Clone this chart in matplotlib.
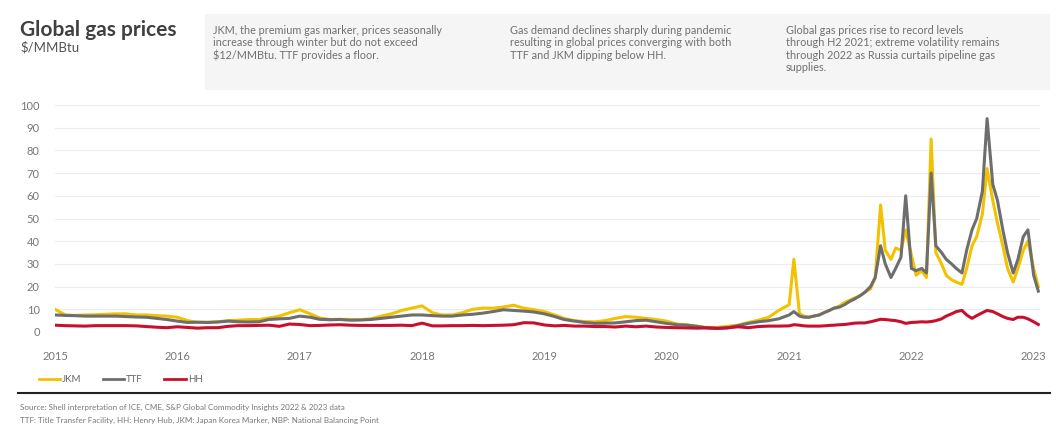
import pandas as pd
import numpy as np
import matplotlib
matplotlib.use("Agg")
import matplotlib.pyplot as plt
from matplotlib.lines import Line2D
from matplotlib.patches import Rectangle

plt.rcParams['font.family'] = ['Lato', 'DejaVu Sans']

# monthly points 2015-2020, then twice a month 2021 - mid Jan 2023
dates_a = pd.date_range("2015-01-01", "2020-12-01", freq="MS")
dates_b = pd.date_range("2021-01-01", "2023-01-15", freq="SMS")
dates = dates_a.append(dates_b)

# $/MMBtu
jkm = [10.0, 7.5, 7.3, 7.5, 7.6, 7.8, 8.0, 8.0, 7.5, 7.5, 7.2, 7.0,
       6.5, 5.0, 4.3, 4.3, 4.5, 5.0, 5.2, 5.5, 5.5, 6.2, 7.0, 8.5,
       9.8, 8.0, 6.2, 5.5, 5.6, 5.5, 5.4, 5.8, 7.0, 8.0, 9.5, 10.5,
       11.5, 8.5, 7.5, 7.5, 8.5, 10.0, 10.5, 10.5, 11.0, 11.8, 10.5, 9.8,
       9.0, 7.5, 6.0, 5.0, 4.6, 4.5, 5.0, 6.0, 6.8, 6.5, 6.0, 5.5,
       4.8, 3.5, 3.2, 2.5, 2.0, 2.0, 2.5, 3.0, 4.2, 5.2, 6.5, 9.5,
       # 2021
       12.0, 32.0, 8.0, 7.0, 6.5, 7.0, 7.5, 8.5, 9.5, 10.5, 11.5, 13.0,
       14.0, 15.0, 16.0, 17.5, 19.0, 24.0, 56.0, 36.0, 32.0, 37.0, 36.0, 45.0,
       # 2022
       34.0, 25.0, 27.0, 24.0, 85.0, 35.0, 30.0, 25.0, 23.0, 22.0, 21.0, 28.0,
       38.0, 42.0, 52.0, 72.0, 58.0, 48.0, 38.0, 28.0, 22.0, 28.0, 36.0, 40.0,
       28.0, 20.0]
ttf = [7.5, 7.3, 7.2, 7.0, 7.0, 7.0, 7.0, 6.8, 6.6, 6.5, 6.0, 5.5,
       4.8, 4.2, 4.3, 4.2, 4.4, 4.8, 4.5, 4.4, 4.5, 5.5, 5.8, 6.0,
       7.0, 6.5, 5.6, 5.4, 5.5, 5.2, 5.3, 5.5, 6.0, 6.5, 7.0, 7.5,
       7.5, 7.2, 7.0, 7.0, 7.5, 7.8, 8.3, 9.0, 9.8, 9.5, 9.2, 8.8,
       8.0, 6.8, 5.5, 4.8, 4.2, 3.8, 3.9, 4.0, 4.5, 5.0, 5.2, 4.5,
       3.8, 3.2, 3.0, 2.5, 1.8, 1.6, 1.9, 2.8, 3.8, 4.5, 5.0, 5.8,
       # 2021
       7.5, 9.0, 7.0, 6.5, 6.5, 7.0, 7.5, 8.5, 9.5, 10.5, 11.0, 12.0,
       13.5, 14.5, 16.0, 17.5, 20.0, 24.0, 38.0, 30.0, 24.0, 28.0, 33.0, 60.0,
       # 2022
       28.0, 27.0, 28.0, 26.0, 70.0, 38.0, 35.0, 32.0, 30.0, 28.0, 26.0, 36.0,
       45.0, 50.0, 62.0, 94.0, 65.0, 58.0, 45.0, 35.0, 26.0, 32.0, 42.0, 45.0,
       25.0, 18.0]
hh = [3.0, 2.8, 2.7, 2.6, 2.8, 2.8, 2.8, 2.8, 2.7, 2.4, 2.1, 1.9,
      2.3, 2.0, 1.7, 1.9, 1.9, 2.5, 2.8, 2.8, 2.9, 3.0, 2.5, 3.5,
      3.3, 2.8, 2.9, 3.1, 3.2, 3.0, 2.9, 2.9, 2.9, 2.9, 3.0, 2.8,
      3.9, 2.7, 2.7, 2.8, 2.8, 2.9, 2.8, 2.9, 3.0, 3.2, 4.1, 4.0,
      3.1, 2.7, 2.9, 2.6, 2.6, 2.4, 2.4, 2.2, 2.6, 2.3, 2.6, 2.2,
      2.0, 1.9, 1.8, 1.7, 1.8, 1.6, 1.8, 2.3, 1.9, 2.4, 2.6, 2.6,
      # 2021
      2.7, 3.2, 3.0, 2.7, 2.6, 2.6, 2.6, 2.7, 2.9, 3.0, 3.2, 3.3,
      3.6, 3.9, 4.0, 4.0, 4.5, 5.0, 5.6, 5.5, 5.2, 5.0, 4.5, 3.8,
      # 2022
      4.2, 4.3, 4.5, 4.4, 4.6, 5.0, 5.8, 7.0, 8.0, 9.0, 9.5, 7.5,
      6.0, 7.2, 8.5, 9.5, 9.0, 8.0, 6.8, 6.0, 5.5, 6.5, 6.5, 5.8,
      4.5, 3.3]

year_ticks = ["2015", "2016", "2017", "2018", "2019", "2020", "2021", "2022", "2023"]
y_ticks = [0, 10, 20, 30, 40, 50, 60, 70, 80, 90, 100]

notes = ["JKM, the premium gas marker, prices seasonally\nincrease through winter but do not exceed\n$12/MMBtu. TTF provides a floor.",
         "Gas demand declines sharply during pandemic\nresulting in global prices converging with both\nTTF and JKM dipping below HH.",
         "Global gas prices rise to record levels\nthrough H2 2021; extreme volatility remains\nthrough 2022 as Russia curtails pipeline gas\nsupplies."]

c_jkm = "#f2c200"
c_ttf = "#6e6e6e"
c_hh = "#c8102e"
txt = "#707070"

W, H = 1056, 428
fig = plt.figure(figsize=(W / 100, H / 100), dpi=100)
fig.patch.set_facecolor("white")

# grey band behind the notes
fig.patches.append(Rectangle((205 / W, 1 - 90 / H), 845 / W, 76 / H,
                             transform=fig.transFigure, facecolor="#f5f5f5",
                             edgecolor="none", zorder=0))

fig.text(20 / W, 1 - 30 / H, "Global gas prices", fontsize=15, fontweight="bold",
         color="#404040", va="center")
fig.text(20 / W, 1 - 47 / H, "$/MMBtu", fontsize=9.5, color="#555555", va="center")

for xp, note in zip([213, 510, 786], notes):
    fig.text(xp / W, 1 - 25 / H, note, fontsize=7.8, color=txt, va="top",
             linespacing=1.15)

ax = fig.add_axes([55 / W, 1 - 332 / H, 985 / W, 227 / H])
ax.plot(dates, jkm, color=c_jkm, lw=2.2, label="JKM", zorder=3)
ax.plot(dates, ttf, color=c_ttf, lw=2.2, label="TTF", zorder=4)
ax.plot(dates, hh, color=c_hh, lw=2.2, label="HH", zorder=5)

ax.set_xlim(pd.Timestamp("2015-01-01"), pd.Timestamp("2023-01-20"))
ax.set_ylim(0, 100)
ax.set_yticks(y_ticks)
ax.set_yticklabels([str(v) for v in y_ticks])
ax.set_xticks([pd.Timestamp(y + "-01-01") for y in year_ticks])
ax.set_xticklabels(year_ticks)
ax.tick_params(axis="both", length=0, labelsize=8, labelcolor="#777777")
ax.tick_params(axis="x", pad=14)
ax.tick_params(axis="y", pad=11)
ax.grid(axis="y", color="#ececec", lw=0.8)
ax.set_axisbelow(True)
for s in ax.spines.values():
    s.set_visible(False)

handles = [Line2D([], [], color=c, lw=2) for c in (c_jkm, c_ttf, c_hh)]
fig.legend(handles, ["JKM", "TTF", "HH"], loc="center left",
           bbox_to_anchor=(30 / W, 1 - 380 / H), ncol=3, frameon=False,
           fontsize=7, handlelength=2.2, handletextpad=0.2, columnspacing=2.2,
           labelcolor="#666666")

fig.add_artist(Line2D([18 / W, 1050 / W], [1 - 393 / H, 1 - 393 / H],
                      transform=fig.transFigure, color="#222222", lw=1.5))
fig.text(20 / W, 1 - 407 / H,
         "Source: Shell interpretation of ICE, CME, S&P Global Commodity Insights 2022 & 2023 data",
         fontsize=5.8, color="#777777", va="center")
fig.text(20 / W, 1 - 420 / H,
         "TTF: Title Transfer Facility, HH: Henry Hub, JKM: Japan Korea Marker, NBP: National Balancing Point",
         fontsize=5.8, color="#777777", va="center")

fig.savefig("out.png", dpi=100)
